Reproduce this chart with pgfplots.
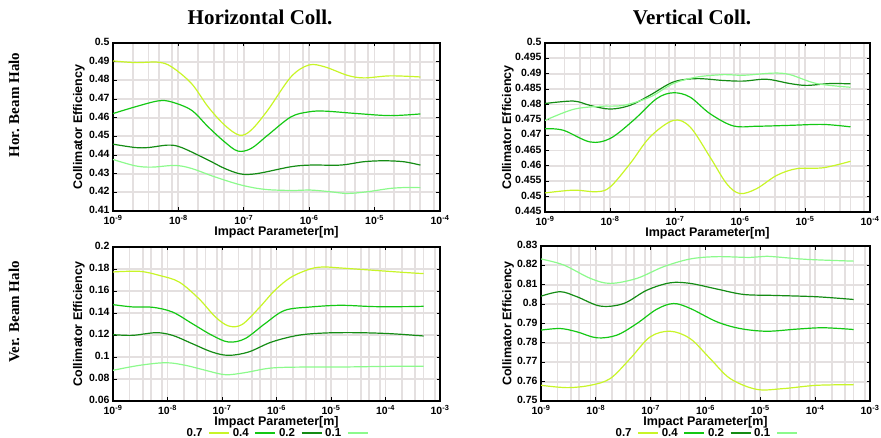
\documentclass[border=0pt]{standalone}
\usepackage{fontspec}
\setmainfont{Liberation Sans}
\newfontfamily\titlefont{Liberation Serif}
\usepackage{pgfplots}
\pgfplotsset{compat=1.18}
\definecolor{cA}{RGB}{200,245,40}
\definecolor{cB}{RGB}{20,200,20}
\definecolor{cC}{RGB}{20,140,20}
\definecolor{cD}{RGB}{140,250,140}
\definecolor{gridc}{RGB}{228,224,224}
\pgfplotsset{
 panel/.style={
  scale only axis, anchor=south west,
  xmin=-9,
  grid=both,
  major grid style={line width=1.8pt, color=gridc},
  minor grid style={line width=1.8pt, color=gridc},
  axis line style={line width=1.3pt, black},
  tick style={black, line width=0.9pt},
  major tick length=3.5pt, minor tick length=0pt,
  ticklabel style={font=\bfseries\fontsize{10.5}{11}\selectfont},
  xticklabel style={yshift=-1pt},
  yticklabel style={/pgf/number format/assume math mode=true, /pgf/number format/fixed, /pgf/number format/precision=3, yshift=1pt},
  label style={font=\bfseries\fontsize{12.5}{13}\selectfont},
  xlabel={Impact Parameter[m]}, ylabel={Collimator Efficiency},
  xlabel style={at={(axis description cs:0.5,0)}, anchor=center, yshift=-21pt},
  every axis plot/.append style={line width=1.2pt, smooth, tension=0.55, no marks},
  legend plot pos=right,
  legend image code/.code={\draw[##1] (0pt,0pt) -- (20pt,0pt);},
 },
 topx/.style={xmax=-4, xtick={-9,-8,-7,-6,-5,-4},
  xticklabels={10\textsuperscript{-9},10\textsuperscript{-8},10\textsuperscript{-7},10\textsuperscript{-6},10\textsuperscript{-5},10\textsuperscript{-4}},
  minor xtick={-8.699,-8.456,-8.301,-8.097,-7.699,-7.456,-7.301,-7.097,-6.699,-6.456,-6.301,-6.097,-5.699,-5.456,-5.301,-5.097,-4.699,-4.456,-4.301,-4.097}},
 botx/.style={xmax=-3, xtick={-9,-8,-7,-6,-5,-4,-3},
  xticklabels={10\textsuperscript{-9},10\textsuperscript{-8},10\textsuperscript{-7},10\textsuperscript{-6},10\textsuperscript{-5},10\textsuperscript{-4},10\textsuperscript{-3}},
  minor xtick={-8.699,-8.456,-8.301,-8.097,-7.699,-7.456,-7.301,-7.097,-6.699,-6.456,-6.301,-6.097,-5.699,-5.456,-5.301,-5.097,-4.699,-4.456,-4.301,-4.097,-3.699,-3.456,-3.301,-3.097}},
 leg/.style={legend style={at={(axis description cs:0.5,0)}, anchor=center, yshift=-32pt, draw=none, fill=none,
   legend columns=4, font=\bfseries\fontsize{11.5}{12}\selectfont, inner sep=0pt,
   /tikz/every even column/.append style={column sep=1pt},
   /tikz/every odd column/.append style={column sep=4pt}}},
}
\begin{document}
\begin{tikzpicture}
\useasboundingbox (0,0) rectangle (881pt,438pt);
% top-left
\begin{axis}[panel, topx, at={(113pt,227pt)}, width=327pt, height=168pt,
  ymin=0.41, ymax=0.5, ytick={0.41,0.42,...,0.505},
  ylabel style={at={(axis description cs:-0.104,0.5)}, anchor=center}]
\addplot[cA] coordinates {(-9,.4904) (-8.66,.4895) (-8.306,.4897) (-8.103,.4872) (-7.8,.4783) (-7.546,.4658) (-7.293,.456) (-7.065,.4506) (-6.888,.4533) (-6.634,.464) (-6.28,.4818) (-6.006,.4882) (-5.76,.4872) (-5.418,.4827) (-5.165,.4813) (-4.76,.4824) (-4.3,.4818)};
\addplot[cB] coordinates {(-9,.4622) (-8.66,.4658) (-8.306,.469) (-8.103,.4684) (-7.8,.464) (-7.546,.4551) (-7.293,.447) (-7.09,.4421) (-6.888,.4435) (-6.634,.4506) (-6.28,.4604) (-6.006,.4631) (-5.76,.4635) (-5.27,.4622) (-4.76,.4611) (-4.3,.462)};
\addplot[cC] coordinates {(-9,.4458) (-8.66,.444) (-8.458,.444) (-8.154,.4453) (-7.951,.444) (-7.546,.4373) (-7.293,.4328) (-7.04,.4298) (-6.786,.4301) (-6.28,.4337) (-5.976,.4346) (-5.52,.4346) (-5.165,.4364) (-4.861,.4369) (-4.557,.4364) (-4.3,.4346)};
\addplot[cD] coordinates {(-9,.4376) (-8.66,.4342) (-8.407,.4335) (-8.053,.4344) (-7.8,.4328) (-7.445,.4283) (-7.04,.4239) (-6.685,.4216) (-6.28,.421) (-5.976,.4212) (-5.672,.4203) (-5.418,.4194) (-5.114,.4203) (-4.76,.4221) (-4.507,.4226) (-4.3,.4225)};
\end{axis}
% top-right
\begin{axis}[panel, topx, at={(545pt,226pt)}, width=325pt, height=169pt,
  ymin=0.445, ymax=0.5, ytick={0.445,0.45,...,0.5025},
  ylabel style={at={(axis description cs:-0.114,0.5)}, anchor=center}]
\addplot[cA] coordinates {(-9,.4512) (-8.564,.4521) (-8.205,.4516) (-8.0,.4531) (-7.692,.4607) (-7.385,.4694) (-7.026,.4748) (-6.769,.4727) (-6.462,.4629) (-6.205,.4542) (-6.0,.451) (-5.744,.4526) (-5.436,.4569) (-5.128,.4591) (-4.718,.4594) (-4.3,.4615)};
\addplot[cB] coordinates {(-9,.4721) (-8.718,.4716) (-8.308,.4678) (-8.0,.4689) (-7.641,.4748) (-7.282,.4819) (-7.026,.4838) (-6.769,.4824) (-6.462,.477) (-6.103,.473) (-5.744,.4729) (-5.231,.4732) (-4.718,.4735) (-4.3,.4727)};
\addplot[cC] coordinates {(-9,.4803) (-8.564,.4811) (-8.308,.4797) (-8.0,.4785) (-7.692,.4797) (-7.385,.483) (-7.026,.4873) (-6.667,.4884) (-6.256,.4878) (-5.949,.4876) (-5.59,.4882) (-5.231,.4868) (-4.974,.4862) (-4.615,.4868) (-4.3,.4867)};
\addplot[cD] coordinates {(-9,.4748) (-8.564,.4784) (-8.154,.4794) (-7.795,.4797) (-7.385,.4824) (-7.026,.4868) (-6.667,.4889) (-6.256,.4897) (-5.949,.4895) (-5.487,.4902) (-5.231,.4897) (-4.821,.4868) (-4.3,.4856)};
\end{axis}
% bottom-left
\begin{axis}[panel, botx, leg, at={(113pt,37pt)}, width=327pt, height=154pt,
  ymin=0.06, ymax=0.2, ytick={0.06,0.08,...,0.21},
  ylabel style={at={(axis description cs:-0.104,0.5)}, anchor=center}]
\addplot[cA] coordinates {(-9,.1773) (-8.515,.1779) (-8.152,.1742) (-7.788,.1682) (-7.424,.153) (-7.121,.1364) (-6.879,.1282) (-6.636,.1294) (-6.333,.1439) (-6.03,.1606) (-5.727,.1727) (-5.364,.1803) (-5.121,.1818) (-4.818,.1809) (-4.212,.1788) (-3.606,.1767) (-3.3,.1758)};
\addplot[cB] coordinates {(-9,.1476) (-8.636,.1455) (-8.273,.1452) (-7.909,.1409) (-7.545,.1303) (-7.182,.1197) (-6.879,.1136) (-6.576,.1167) (-6.212,.1303) (-5.848,.1424) (-5.364,.1455) (-4.818,.147) (-4.212,.1458) (-3.606,.1458) (-3.3,.1461)};
\addplot[cC] coordinates {(-9,.1203) (-8.636,.1197) (-8.212,.1221) (-7.909,.1197) (-7.545,.1121) (-7.182,.1045) (-6.879,.1015) (-6.515,.1045) (-6.091,.1136) (-5.606,.1197) (-5.121,.1218) (-4.515,.1221) (-3.909,.1212) (-3.3,.1191)};
\addplot[cD] coordinates {(-9,.0879) (-8.515,.0924) (-8.03,.0948) (-7.667,.0924) (-7.303,.0879) (-6.939,.0839) (-6.576,.0858) (-6.091,.09) (-5.424,.0909) (-4.818,.0909) (-3.909,.0915) (-3.3,.0915)};
\legend{0.7,0.4,0.2,0.1}
\end{axis}
% bottom-right
\begin{axis}[panel, botx, leg, at={(541pt,37pt)}, width=329pt, height=155pt,
  ymin=0.75, ymax=0.83, ytick={0.75,0.76,...,0.835},
  ylabel style={at={(axis description cs:-0.1,0.5)}, anchor=center}]
\addplot[cA] coordinates {(-9,.7581) (-8.526,.7569) (-8.101,.7581) (-7.737,.7616) (-7.373,.7719) (-7.009,.7831) (-6.644,.786) (-6.28,.7822) (-5.916,.7719) (-5.551,.7616) (-5.066,.756) (-4.58,.7564) (-3.973,.7581) (-3.3,.7584)};
\addplot[cB] coordinates {(-9,.7866) (-8.648,.7874) (-8.344,.7857) (-7.98,.7826) (-7.616,.784) (-7.251,.79) (-6.887,.7974) (-6.583,.8003) (-6.28,.7978) (-5.794,.7909) (-5.369,.7874) (-4.883,.786) (-4.337,.7871) (-3.851,.7878) (-3.3,.7869)};
\addplot[cC] coordinates {(-9,.8041) (-8.648,.8064) (-8.344,.8038) (-7.919,.799) (-7.494,.8003) (-7.069,.8072) (-6.644,.811) (-6.28,.8107) (-5.794,.8078) (-5.308,.805) (-4.762,.8045) (-3.973,.8038) (-3.3,.8024)};
\addplot[cD] coordinates {(-9,.8233) (-8.587,.8202) (-8.101,.8133) (-7.737,.8107) (-7.251,.8133) (-6.766,.8193) (-6.28,.8233) (-5.794,.8245) (-5.187,.8241) (-4.883,.8247) (-4.155,.8231) (-3.3,.8222)};
\legend{0.7,0.4,0.2,0.1}
\end{axis}
\node[font=\titlefont\bfseries\fontsize{21}{22}\selectfont] at (260pt,421pt) {Horizontal Coll.};
\node[font=\titlefont\bfseries\fontsize{21}{22}\selectfont] at (692pt,421pt) {Vertical Coll.};
\node[font=\titlefont\bfseries\fontsize{15}{16}\selectfont, rotate=90] at (14pt,333pt) {Hor. Beam Halo};
\node[font=\titlefont\bfseries\fontsize{15}{16}\selectfont, rotate=90] at (14pt,126pt) {Ver. Beam Halo};
\end{tikzpicture}
\end{document}
